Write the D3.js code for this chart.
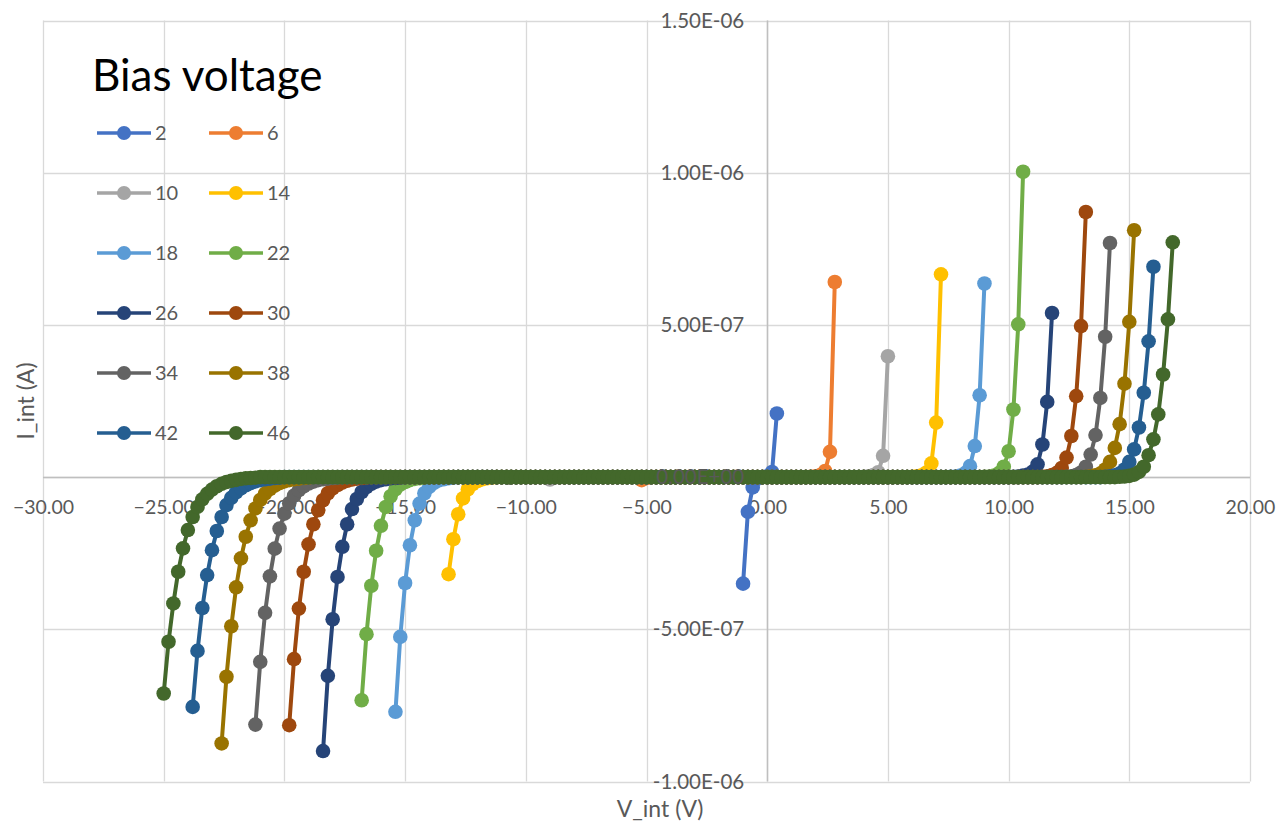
<!DOCTYPE html>
<html>
<head>
<meta charset="utf-8">
<script src="https://cdn.jsdelivr.net/npm/d3@7"></script>
<style>
  body { margin: 0; background: #fff; }
  svg { display: block; }
  text { font-family: Lato, "Open Sans", "Noto Sans", sans-serif; }
</style>
</head>
<body>
<svg id="chart" width="1278" height="825"></svg>
<script>
// Bias voltage of each sweep (legend labels) and its Office palette colour
const biasVoltages = [2, 6, 10, 14, 18, 22, 26, 30, 34, 38, 42, 46];
const seriesColors = ["#4472C4", "#ED7D31", "#A5A5A5", "#FFC000", "#5B9BD5", "#70AD47",
                      "#264478", "#9E480E", "#636363", "#997300", "#255E91", "#43682B"];

// Voltage sweep of each curve: first and last V_int, step 0.2 V
const sweepStart = [-1.0, -5.2, -9.0, -13.2, -15.4, -16.8, -18.4, -19.8, -21.2, -22.6, -23.8, -25.0];
const sweepEnd   = [ 0.4,  2.8,  5.0,   7.2,   9.0,  10.6,  11.8,  13.2,  14.2,  15.2,  16.0,  16.8];
const sweepStep = 0.2;

// Reverse-breakdown currents (units of 1e-7 A), listed from the first sweep point upward
const reverseTail = [
  [-3.50, -1.14, -0.34, -0.05],
  [-0.10, -0.03],
  [-0.08, -0.02],
  [-3.19, -2.04, -1.22, -0.70, -0.40, -0.23, -0.13, -0.07, -0.04, -0.02],
  [-7.71, -5.25, -3.48, -2.24, -1.42, -0.87, -0.53, -0.32, -0.19, -0.11, -0.07, -0.04, -0.02],
  [-7.33, -5.16, -3.57, -2.42, -1.60, -0.98, -0.63, -0.40, -0.25, -0.16, -0.10, -0.06, -0.04, -0.02],
  [-9.00, -6.53, -4.67, -3.28, -2.29, -1.55, -1.05, -0.72, -0.49, -0.33, -0.22, -0.15, -0.10, -0.07, -0.04, -0.03, -0.02],
  [-8.15, -5.98, -4.32, -3.11, -2.21, -1.55, -1.09, -0.76, -0.53, -0.37, -0.26, -0.18, -0.12, -0.08, -0.05, -0.03, -0.02],
  [-8.13, -6.07, -4.46, -3.26, -2.35, -1.69, -1.20, -0.86, -0.61, -0.43, -0.30, -0.21, -0.15, -0.10, -0.07, -0.05, -0.03, -0.02],
  [-8.75, -6.56, -4.90, -3.62, -2.67, -1.96, -1.42, -1.03, -0.75, -0.54, -0.39, -0.28, -0.20, -0.14, -0.10, -0.07, -0.05, -0.03, -0.02],
  [-7.55, -5.71, -4.30, -3.22, -2.40, -1.77, -1.31, -0.92, -0.68, -0.50, -0.37, -0.27, -0.20, -0.14, -0.10, -0.07, -0.05, -0.03, -0.02],
  [-7.11, -5.41, -4.15, -3.11, -2.34, -1.74, -1.31, -0.98, -0.73, -0.55, -0.41, -0.30, -0.22, -0.16, -0.12, -0.09, -0.06, -0.04, -0.03, -0.02]
];

// Forward currents (units of 1e-7 A), listed up to the last sweep point
const forwardTail = [
  [0.03, 0.17, 2.09],
  [0.01, 0.03, 0.07, 0.20, 0.83, 6.41],
  [0.01, 0.03, 0.07, 0.16, 0.70, 3.97],
  [0.01, 0.03, 0.06, 0.15, 0.45, 1.79, 6.66],
  [0.01, 0.02, 0.05, 0.13, 0.36, 1.02, 2.69, 6.36],
  [0.01, 0.02, 0.05, 0.13, 0.34, 0.85, 2.22, 5.02, 10.03],
  [0.01, 0.02, 0.05, 0.08, 0.18, 0.42, 1.07, 2.47, 5.39],
  [0.01, 0.03, 0.07, 0.14, 0.30, 0.64, 1.35, 2.66, 4.96, 8.71],
  [0.01, 0.03, 0.07, 0.15, 0.34, 0.74, 1.38, 2.60, 4.61, 7.69],
  [0.01, 0.03, 0.06, 0.12, 0.25, 0.50, 0.96, 1.74, 3.07, 5.10, 8.11],
  [0.01, 0.03, 0.06, 0.12, 0.25, 0.50, 0.91, 1.63, 2.77, 4.46, 6.91],
  [0.01, 0.02, 0.04, 0.08, 0.17, 0.34, 0.72, 1.24, 2.06, 3.37, 5.18, 7.71]
];
// Between the two tails the measured current sits at 0 A.

const xTicks = [-30, -25, -20, -15, -10, -5, 0, 5, 10, 15, 20];
const yTicks = [-1e-6, -5e-7, 0, 5e-7, 1e-6, 1.5e-6];

// ---- build the sweeps -------------------------------------------------
const series = biasVoltages.map((bias, s) => {
  const n = Math.round((sweepEnd[s] - sweepStart[s]) / sweepStep) + 1;
  const rev = reverseTail[s], fwd = forwardTail[s];
  const pts = d3.range(n).map(i => {
    const v = +(sweepStart[s] + i * sweepStep).toFixed(1);
    let c = 0;
    if (i < rev.length) c = rev[i];
    else if (i >= n - fwd.length) c = fwd[i - (n - fwd.length)];
    return { v, i: c * 1e-7 };
  });
  return { bias, color: seriesColors[s], pts };
});

// ---- layout ---------------------------------------------------------------
const svg = d3.select("#chart");
const plot = { left: 43, right: 1250, top: 20.5, bottom: 781.5 };
const x = d3.scaleLinear().domain([-30, 20]).range([plot.left, plot.right]);
const y = d3.scaleLinear().domain([-1e-6, 1.5e-6]).range([plot.bottom, plot.top]);

const sci = v => {
  if (v === 0) return "0.00E+00";
  const [m, e] = v.toExponential(2).split("e");
  const ex = +e;
  return m + "E" + (ex < 0 ? "-" : "+") + String(Math.abs(ex)).padStart(2, "0");
};

svg.append("rect").attr("width", 1278).attr("height", 825).attr("fill", "#fff");

// gridlines
const grid = svg.append("g").attr("stroke", "#d9d9d9").attr("stroke-width", 1.3);
grid.selectAll("line.v").data(xTicks).join("line")
  .attr("x1", d => Math.round(x(d)) + 0.5).attr("x2", d => Math.round(x(d)) + 0.5)
  .attr("y1", plot.top).attr("y2", plot.bottom);
grid.selectAll("line.h").data(yTicks).join("line")
  .attr("x1", plot.left).attr("x2", plot.right)
  .attr("y1", d => Math.round(y(d)) + 0.5).attr("y2", d => Math.round(y(d)) + 0.5);

// axis lines through the origin
svg.append("line").attr("stroke", "#bfbfbf").attr("stroke-width", 1.5)
  .attr("x1", Math.round(x(0)) + 0.5).attr("x2", Math.round(x(0)) + 0.5)
  .attr("y1", plot.top).attr("y2", plot.bottom);
svg.append("line").attr("stroke", "#bfbfbf").attr("stroke-width", 1.5)
  .attr("x1", plot.left).attr("x2", plot.right)
  .attr("y1", Math.round(y(0)) + 0.5).attr("y2", Math.round(y(0)) + 0.5);

// x tick labels (below the zero line)
const xAxis = svg.append("g")
  .attr("transform", `translate(0,${y(0)})`)
  .call(d3.axisBottom(x).tickValues(xTicks).tickFormat(d3.format(".2f")).tickSize(0).tickPadding(23));
xAxis.select(".domain").remove();
xAxis.selectAll("text").attr("font-family", null).style("font-size", "19.5px").attr("fill", "#595959");

// data series
const line = d3.line().x(d => x(d.v)).y(d => y(d.i));
const sg = svg.append("g").selectAll("g").data(series).join("g");
sg.append("path")
  .attr("d", d => line(d.pts))
  .attr("fill", "none")
  .attr("stroke", d => d.color)
  .attr("stroke-width", 4)
  .attr("stroke-linejoin", "round");
sg.selectAll("circle").data(d => d.pts.map(p => ({ ...p, color: d.color }))).join("circle")
  .attr("cx", d => x(d.v)).attr("cy", d => y(d.i)).attr("r", 7.3)
  .attr("fill", d => d.color);

// y tick labels, left of the zero line
const yAxis = svg.append("g")
  .attr("transform", `translate(${x(0)},0)`)
  .call(d3.axisLeft(y).tickValues(yTicks).tickFormat(sci).tickSize(0).tickPadding(23));
yAxis.select(".domain").remove();
yAxis.selectAll("text").attr("font-family", null).style("font-size", "20.5px").attr("fill", "#595959");

// axis titles
svg.append("text").attr("x", 660).attr("y", 809).attr("dy", "0.35em")
  .attr("text-anchor", "middle").style("font-size", "23px").attr("fill", "#595959")
  .text("V_int (V)");
svg.append("text").attr("transform", "translate(26,401) rotate(-90)").attr("dy", "0.35em")
  .attr("text-anchor", "middle").style("font-size", "23px").attr("fill", "#595959")
  .text("I_int (A)");

// legend
const legend = svg.append("g");
legend.append("text").attr("x", 92).attr("y", 91)
  .style("font-size", "44px").attr("fill", "#000").text("Bias voltage");
const colX = [97, 209];
const entry = legend.selectAll("g.entry").data(series).join("g")
  .attr("transform", (d, k) => `translate(${colX[k % 2]},${133 + 60 * Math.floor(k / 2)})`);
entry.append("line").attr("x1", 0).attr("x2", 54).attr("y1", 0).attr("y2", 0)
  .attr("stroke", d => d.color).attr("stroke-width", 3.5);
entry.append("circle").attr("cx", 27).attr("cy", 0).attr("r", 7).attr("fill", d => d.color);
entry.append("text").attr("x", 58).attr("dy", "0.35em")
  .style("font-size", "20px").attr("fill", "#595959").text(d => d.bias);
</script>
</body>
</html>
